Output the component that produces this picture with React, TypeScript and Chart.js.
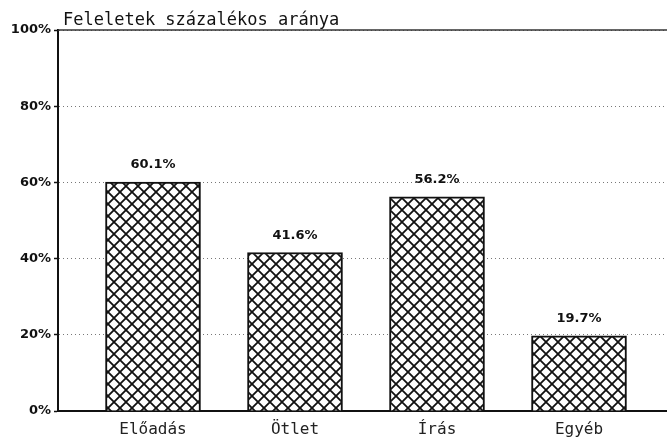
import React, { useEffect, useRef } from "react";
import { Chart, registerables } from "chart.js";

Chart.register(...registerables);

const categories = ["Előadás", "Ötlet", "Írás", "Egyéb"];
const values = [60.1, 41.6, 56.2, 19.7];
const yTicks = [0, 20, 40, 60, 80, 100];
const chartTitle = "Feleletek százalékos aránya";

function makeHatch(): CanvasPattern | string {
  const c = document.createElement("canvas");
  c.width = 12;
  c.height = 12;
  const g = c.getContext("2d");
  if (!g) return "#888";
  g.fillStyle = "#ffffff";
  g.fillRect(0, 0, 12, 12);
  g.strokeStyle = "#111111";
  g.lineWidth = 1.8;
  g.beginPath();
  g.moveTo(-2, -2);
  g.lineTo(14, 14);
  g.moveTo(-2, 14);
  g.lineTo(14, -2);
  g.stroke();
  const p = g.createPattern(c, "repeat");
  return p || "#888";
}

export default function App() {
  const ref = useRef<HTMLCanvasElement | null>(null);

  useEffect(() => {
    document.body.style.margin = "0";
    const canvas = ref.current;
    if (!canvas) return;
    const hatch = makeHatch();

    const extras = {
      id: "extras",
      afterDraw(chart: any) {
        const { ctx, chartArea } = chart;
        ctx.save();
        const y100 = chart.scales.y.getPixelForValue(100);
        ctx.strokeStyle = "#333";
        ctx.lineWidth = 1.5;
        ctx.beginPath();
        ctx.moveTo(chartArea.left, y100);
        ctx.lineTo(chartArea.right, y100);
        ctx.stroke();
        ctx.fillStyle = "#111";
        ctx.font = "17px 'DejaVu Sans Mono'";
        ctx.textAlign = "left";
        ctx.textBaseline = "alphabetic";
        ctx.fillText(chartTitle, chartArea.left + 5, y100 - 5);
        ctx.font = "bold 13px 'DejaVu Sans'";
        ctx.textAlign = "center";
        const meta = chart.getDatasetMeta(0);
        meta.data.forEach((bar: any, i: number) => {
          ctx.fillText(values[i].toFixed(1) + "%", bar.x, bar.y - 14);
        });
        ctx.restore();
      },
    };

    const chart = new Chart(canvas, {
      type: "bar",
      data: {
        datasets: [
          {
            data: categories.map((c, i) => ({ x: i, y: values[i] })),
            backgroundColor: hatch as any,
            borderColor: "#111",
            borderWidth: 2,
            barThickness: 95,
          },
        ],
      },
      options: {
        animation: false,
        responsive: false,
        maintainAspectRatio: false,
        layout: { padding: { top: 30, right: 0, left: 0, bottom: 0 } },
        plugins: {
          legend: { display: false },
          tooltip: { enabled: false },
          title: { display: false },
        },
        scales: {
          x: {
            type: "linear",
            offset: false,
            min: -95 / 142,
            max: 514 / 142,
            grid: { display: false, offset: false },
            border: { display: true, color: "#111", width: 2 },
            afterBuildTicks: (scale: any) => {
              scale.ticks = categories.map((c, i) => ({ value: i }));
            },
            afterFit: (scale: any) => {
              scale.height = 28;
            },
            ticks: {
              autoSkip: false,
              maxRotation: 0,
              padding: 1,
              color: "#222",
              font: { family: "'DejaVu Sans Mono'", size: 16 },
              callback: (v: any) => categories[Math.round(Number(v))] ?? "",
            },
          },
          y: {
            min: 0,
            max: 100,
            afterBuildTicks: (scale: any) => {
              scale.ticks = yTicks.map((v) => ({ value: v }));
            },
            afterFit: (scale: any) => {
              scale.width = 58;
            },
            grid: {
              color: "#777",
              lineWidth: 1,
              drawTicks: true,
              tickLength: 4,
              tickColor: "#111",
              tickWidth: 1.5,
            },
            border: { display: true, color: "#111", width: 2, dash: [1, 3] },
            ticks: {
              padding: 3,
              color: "#111",
              font: { family: "'DejaVu Sans'", size: 13, weight: "bold" },
              callback: (v: any) => v + "%",
            },
          },
        },
      } as any,
      plugins: [extras],
    });
    return () => chart.destroy();
  }, []);

  return (
    <div style={{ width: 667, height: 439, background: "#fff" }}>
      <canvas ref={ref} width={667} height={439} style={{ display: "block" }} />
    </div>
  );
}
